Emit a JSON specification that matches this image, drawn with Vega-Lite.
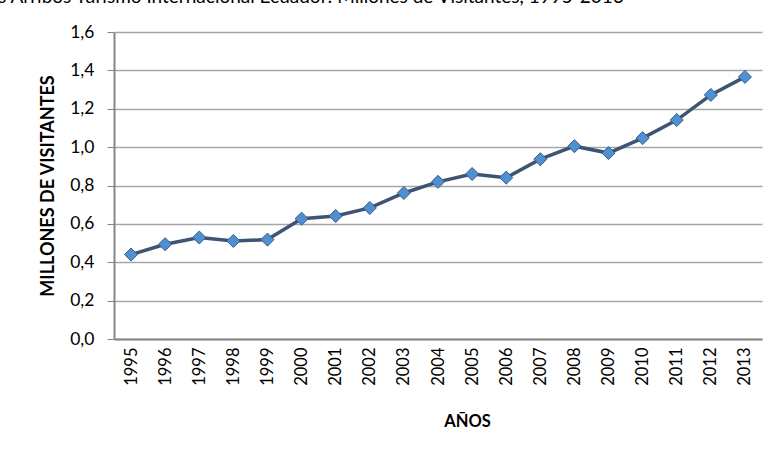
{
  "$schema": "https://vega.github.io/schema/vega-lite/v6.json",
  "width": 648,
  "height": 307,
  "autosize": {"type": "none"},
  "padding": {"left": 114, "top": 32, "right": 12, "bottom": 110},
  "background": "white",
  "config": {
    "locale": {"number": {"decimal": ",", "thousands": ".", "grouping": [3], "currency": ["", " €"]}},
    "view": {"stroke": null},
    "font": "Lato"
  },
  "title": {
    "text": "s Arribos Turismo Internacional Ecuador: Millones de Visitantes, 1995-2013",
    "anchor": "start",
    "frame": "group",
    "dx": -116,
    "offset": 16,
    "fontSize": 19,
    "fontWeight": "normal",
    "font": "Lato",
    "color": "#000000"
  },
  "data": {
    "values": [
      {"year": "1995", "v": 0.440},
      {"year": "1996", "v": 0.494},
      {"year": "1997", "v": 0.529},
      {"year": "1998", "v": 0.511},
      {"year": "1999", "v": 0.518},
      {"year": "2000", "v": 0.627},
      {"year": "2001", "v": 0.641},
      {"year": "2002", "v": 0.683},
      {"year": "2003", "v": 0.761},
      {"year": "2004", "v": 0.819},
      {"year": "2005", "v": 0.860},
      {"year": "2006", "v": 0.841},
      {"year": "2007", "v": 0.937},
      {"year": "2008", "v": 1.005},
      {"year": "2009", "v": 0.969},
      {"year": "2010", "v": 1.047},
      {"year": "2011", "v": 1.141},
      {"year": "2012", "v": 1.272},
      {"year": "2013", "v": 1.366}
    ]
  },
  "encoding": {
    "x": {
      "field": "year",
      "type": "ordinal",
      "scale": {"type": "point", "padding": 0.5},
      "axis": {
        "title": "AÑOS",
        "titleFontSize": 16.5,
        "titleFontWeight": "bold",
        "titleColor": "#000000",
        "titlePadding": 28,
        "titleX": 353,
        "labelAngle": -90,
        "labelAlign": "right",
        "labelBaseline": "middle",
        "labelFontSize": 16.5,
        "labelColor": "#000000",
        "labelPadding": 8,
        "ticks": false,
        "grid": false,
        "domainColor": "#868686",
        "domainWidth": 2
      }
    },
    "y": {
      "field": "v",
      "type": "quantitative",
      "scale": {"domain": [0, 1.6]},
      "axis": {
        "title": "MILLONES DE VISITANTES",
        "titleFontSize": 18,
        "titleFontWeight": "bold",
        "titleColor": "#000000",
        "titlePadding": 12,
        "values": [0, 0.2, 0.4, 0.6, 0.8, 1.0, 1.2, 1.4, 1.6],
        "format": ".1f",
        "labelFontSize": 17.5,
        "labelColor": "#000000",
        "labelPadding": 13,
        "tickSize": 7,
        "tickColor": "#868686",
        "domainColor": "#868686",
        "domainWidth": 2,
        "gridColor": "#A6A6A6",
        "gridWidth": 1.3
      }
    }
  },
  "layer": [
    {"mark": {"type": "line", "color": "#3F5372", "strokeWidth": 3.5}},
    {"mark": {"type": "point", "shape": "diamond", "filled": true, "fill": "#4F90D2", "stroke": "#3A5A84", "strokeWidth": 1, "size": 170, "opacity": 1}}
  ]
}
